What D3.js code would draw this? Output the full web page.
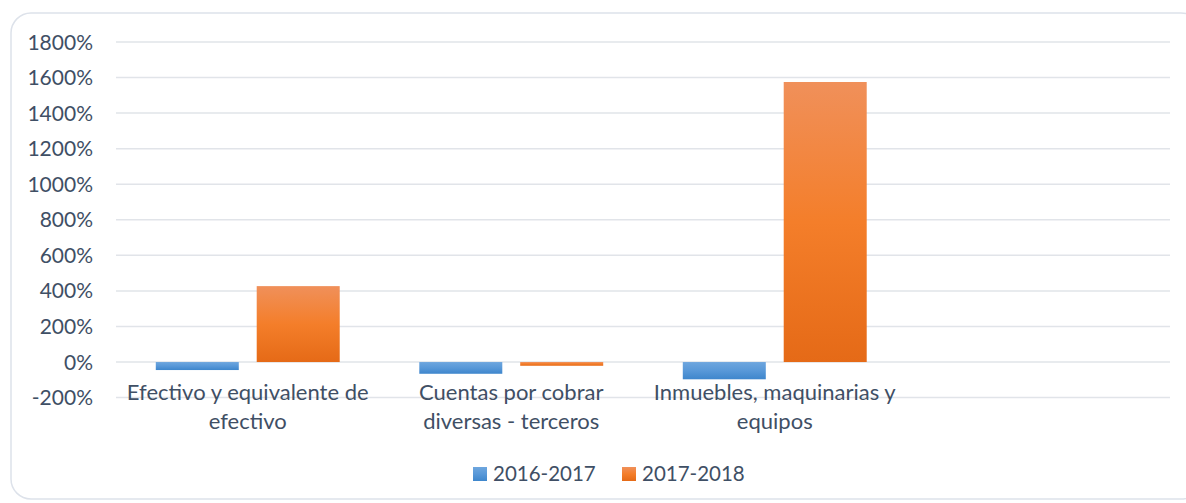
<html>
<head>
<style>
  body { margin: 0; background: #fff; }
  text { font-family: Lato, "Open Sans", sans-serif; fill: #3f4f65; }
</style>
</head>
<body>
<script src="https://d3js.org/d3.v7.min.js"></script>
<script>

    var categories = ["Efectivo y equivalente de efectivo", "Cuentas por cobrar diversas - terceros", "Inmuebles, maquinarias y equipos", ""];
    var labelLines = [["Efectivo y equivalente de", "efectivo"], ["Cuentas por cobrar", "diversas - terceros"], ["Inmuebles, maquinarias y", "equipos"], []];
    var seriesNames = ["2016-2017", "2017-2018"];
    var v2016_2017 = [-45, -66, -97, null];
    var v2017_2018 = [427, -21, 1575, null];
    var yTicks = [-200, 0, 200, 400, 600, 800, 1000, 1200, 1400, 1600, 1800];

    var width = 1186, height = 503;
    var plotLeft = 116, plotRight = 1170, plotTop = 42, plotBottom = 397.6;

    var svg = d3.select("body").append("svg").attr("width", width).attr("height", height);

    var defs = svg.append("defs");
    var grads = [["gBlue", "#6ea6de", "#5898d8", "#3e86cc"], ["gOrange", "#f0905a", "#f47e2a", "#e56a17"]];
    grads.forEach(function (g) {
        var lg = defs.append("linearGradient").attr("id", g[0])
            .attr("x1", 0).attr("y1", 0).attr("x2", 0).attr("y2", 1);
        lg.append("stop").attr("offset", "0%").attr("stop-color", g[1]);
        lg.append("stop").attr("offset", "50%").attr("stop-color", g[2]);
        lg.append("stop").attr("offset", "100%").attr("stop-color", g[3]);
    });

    // outer frame
    svg.append("rect")
        .attr("x", 11).attr("y", 13).attr("width", 1190).attr("height", 486)
        .attr("rx", 20).attr("fill", "#fff")
        .attr("stroke", "#dde2ea").attr("stroke-width", 1.5);

    var x = d3.scaleBand().domain(d3.range(categories.length)).range([plotLeft, plotRight]);
    var y = d3.scaleLinear().domain([-200, 1800]).range([plotBottom, plotTop]);

    // gridlines + y labels
    svg.append("g").selectAll("line").data(yTicks).enter().append("line")
        .attr("x1", plotLeft).attr("x2", plotRight)
        .attr("y1", function (d) { return y(d); })
        .attr("y2", function (d) { return y(d); })
        .attr("stroke", "#e1e4e9").attr("stroke-width", 1.5);

    svg.append("g").selectAll("text").data(yTicks).enter().append("text")
        .attr("x", 93).attr("y", function (d) { return y(d); })
        .attr("dy", "0.36em")
        .attr("text-anchor", "end")
        .style("font-size", "21px")
        .text(function (d) { return d + "%"; });

    // bars
    var barW = x.bandwidth() * 0.315, gap = x.bandwidth() * 0.068;
    var series = [{ vals: v2016_2017, fill: "url(#gBlue)" }, { vals: v2017_2018, fill: "url(#gOrange)" }];
    series.forEach(function (s, si) {
        svg.append("g").selectAll("rect").data(s.vals).enter()
            .filter(function (d) { return d != null; })
            .append("rect")
            .attr("x", function (d, i) {
                var c = x(i) + x.bandwidth() / 2;
                return si == 0 ? c - gap / 2 - barW : c + gap / 2;
            })
            .attr("y", function (d) { return y(Math.max(0, d)); })
            .attr("width", barW)
            .attr("height", function (d) { return Math.abs(y(d) - y(0)); })
            .attr("fill", s.fill);
    });

    // category labels
    labelLines.forEach(function (lines, i) {
        var t = svg.append("text")
            .attr("x", x(i) + x.bandwidth() / 2)
            .attr("y", 400)
            .attr("text-anchor", "middle")
            .style("font-size", "22px");
        lines.forEach(function (l, j) {
            t.append("tspan").attr("x", x(i) + x.bandwidth() / 2).attr("dy", j == 0 ? 0 : 29).text(l);
        });
    });

    // legend
    var legX = [473, 622];
    seriesNames.forEach(function (n, i) {
        var g = svg.append("g").attr("transform", "translate(" + legX[i] + ",467)");
        g.append("rect").attr("width", 14).attr("height", 14).attr("fill", series[i].fill);
        g.append("text").attr("x", 20).attr("y", 7).attr("dy", "0.36em")
            .style("font-size", "20.5px").text(n);
    });

</script>
</body>
</html>
